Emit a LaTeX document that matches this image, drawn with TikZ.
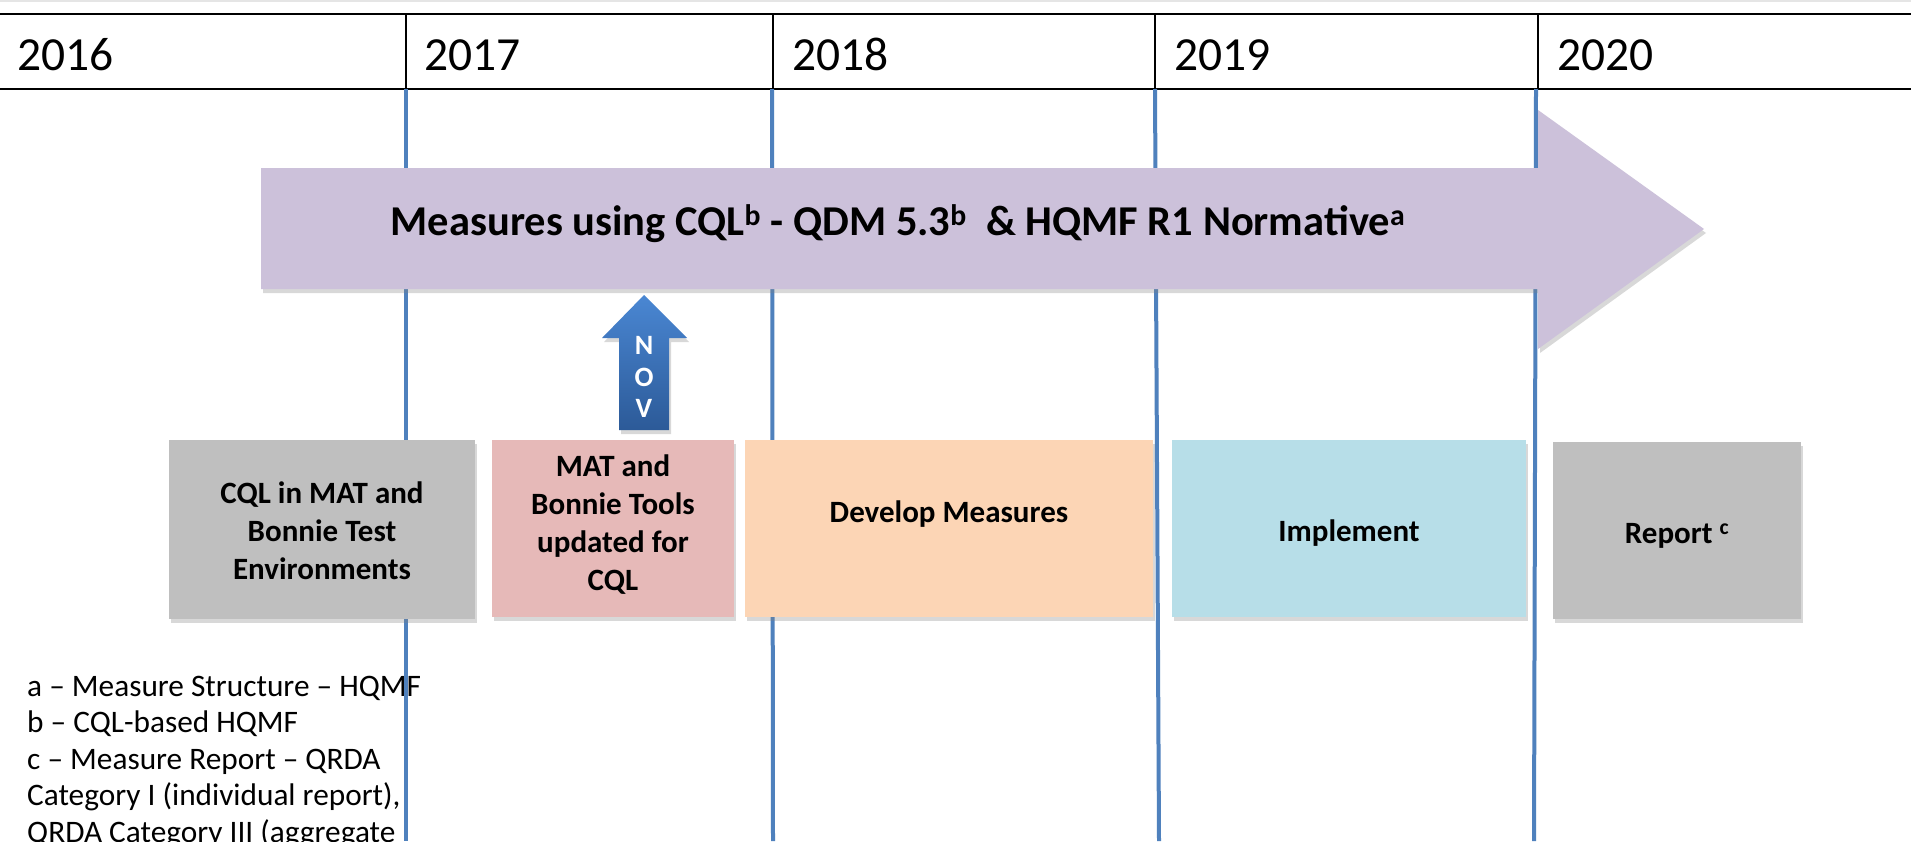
\documentclass[tikz,border=0pt]{standalone}
\usepackage{fontspec}
\setmainfont{Carlito}
\usetikzlibrary{shadows}
\definecolor{tlblue}{HTML}{4F81BD}
\definecolor{purp}{HTML}{CCC1DA}
\definecolor{graybox}{HTML}{BFBFBF}
\definecolor{pinkbox}{HTML}{E6B9B8}
\definecolor{peachbox}{HTML}{FCD5B5}
\definecolor{bluebox}{HTML}{B7DEE8}
\definecolor{novtop}{HTML}{4A87D3}
\definecolor{novbot}{HTML}{2C5A98}
\begin{document}
\begin{tikzpicture}[x=1pt,y=-1pt,
  yearlbl/.style={anchor=base west, inner sep=0, font=\fontsize{47.5}{56}\selectfont},
  shad/.style={drop shadow={shadow xshift=2pt, shadow yshift=-4pt, opacity=0.3}},
  boxtxt/.style={align=center, inner sep=0, font=\fontsize{31}{38}\selectfont\bfseries},
  legendtxt/.style={anchor=base west, inner sep=0, font=\fontsize{31.3}{36}\selectfont},
  vline/.style={draw=tlblue, line width=4pt},
  sepline/.style={draw=black, line width=1.4pt},
  novtxt/.style={text=white, inner sep=0, font=\fontsize{28}{32}\selectfont\bfseries},
  ]
\clip (0,0) rectangle (1911,841);
\fill[white] (0,0) rectangle (1911,841);
\fill[black!10] (0,0) rectangle (1911,2);
% table
\draw[line width=2pt] (0,14) -- (1911,14);
\draw[line width=2pt] (0,89) -- (1911,89);
\draw[sepline] (406,14) -- (406,89);
\draw[sepline] (773,14) -- (773,89);
\draw[sepline] (1155,14) -- (1155,89);
\draw[sepline] (1538,14) -- (1538,89);
\node[yearlbl] (y2016) at (17,70) {2016};
\node[yearlbl] (y2017) at (424,70) {2017};
\node[yearlbl] (y2018) at (792,70) {2018};
\node[yearlbl] (y2019) at (1174,70) {2019};
\node[yearlbl] (y2020) at (1557,70) {2020};
% legend
\node[legendtxt] (leg1) at (27,696) {a – Measure Structure – HQMF};
\node[legendtxt] (leg2) at (27,732) {b – CQL-based HQMF};
\node[legendtxt] (leg3) at (27,769) {c – Measure Report – QRDA};
\node[legendtxt] (leg4) at (27,805) {Category I (individual report),};
\node[legendtxt] (leg5) at (27,842) {QRDA Category III (aggregate};
% timeline lines
\draw[vline] (406,89) -- (406,841);
\draw[vline] (772,89) -- (773,841);
\draw[vline] (1155,89) -- (1159,841);
\draw[vline] (1536,89) -- (1534,841);
% big arrow
\fill[purp, shad] (261,168) -- (1538,168) -- (1538,110) -- (1704,229) -- (1538,349) -- (1538,289) -- (261,289) -- cycle;
\node[anchor=base, inner sep=0, font=\fontsize{42.5}{50}\selectfont\bfseries] (title) at (898,235)
  {Measures using CQL\textsuperscript{b} - QDM 5.3\textsuperscript{b}\ \ \& HQMF R1 Normative\textsuperscript{a}};
% NOV arrow
\shade[top color=novtop, bottom color=novbot, shad] (644,295) -- (687,338) -- (669,338) -- (669,430) -- (619,430) -- (619,338) -- (602,338) -- cycle;
\node[novtxt] (nN) at (644,345) {N};
\node[novtxt] (nO) at (644,377) {O};
\node[novtxt] (nV) at (644,408) {V};
% phase boxes
\fill[graybox, shad] (169,440) rectangle (475,619);
\fill[pinkbox, shad] (492,440) rectangle (734,617);
\fill[peachbox, shad] (745,440) rectangle (1153,617);
\fill[bluebox, shad] (1172,440) rectangle (1526,617);
\fill[graybox, shad] (1553,442) rectangle (1801,619);
\node[boxtxt] (t1) at (322,531) {CQL in MAT and\\Bonnie Test\\Environments};
\node[boxtxt] (t2) at (613,525) {MAT and\\Bonnie Tools\\updated for\\CQL};
\node[boxtxt] (t3) at (949,514) {Develop Measures};
\node[boxtxt] (t4) at (1349,533) {Implement};
\node[boxtxt] (t5) at (1677,536) {Report \textsuperscript{c}};
\end{tikzpicture}
\end{document}
